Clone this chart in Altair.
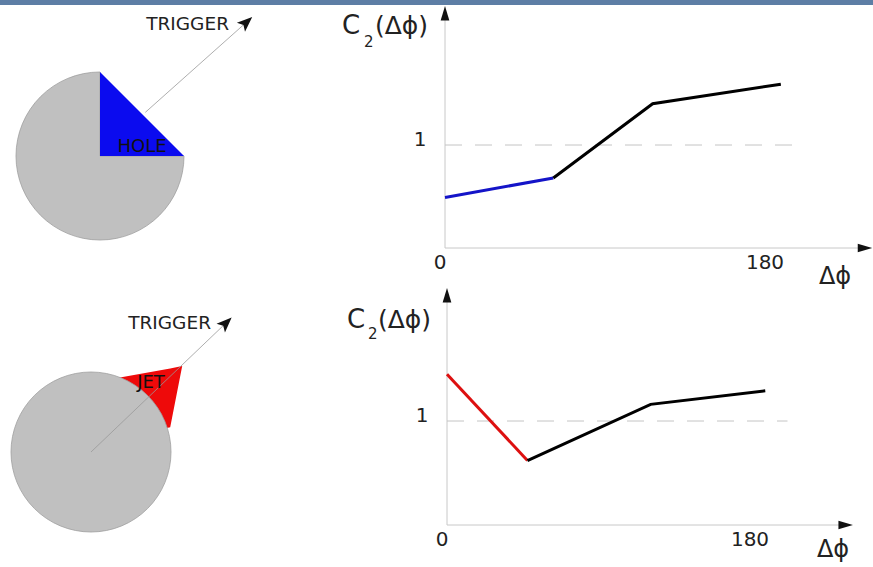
import math
import altair as alt
import pandas as pd

FONT = "DejaVu Sans"

# ---------------- data ----------------
# top plot (HOLE): near-side segment and away-side segment
hole_near_dphi = [0, 60]
hole_near_c2 = [0.49, 0.68]
hole_away_dphi = [60, 115, 186]
hole_away_c2 = [0.68, 1.40, 1.59]

# bottom plot (JET)
jet_near_dphi = [0, 47]
jet_near_c2 = [1.45, 0.62]
jet_away_dphi = [47, 119, 186]
jet_away_c2 = [0.62, 1.16, 1.29]

x_tick_values = [0, 180]
x_tick_labels = ["0", "180"]
y_tick_values = [1]
y_tick_labels = ["1"]

# diagram geometry in units of the disc radius (centre at 0,0)
hole_tri_x = [0.0, 1.0]
hole_tri_top = [1.0, 0.0]
hole_tri_bottom = [0.0, 0.0]

jet_x = [0.24, 0.99, 1.14]
jet_top = [0.91, 1.045, 1.075]
jet_bottom = [0.15, 0.31, 1.075]

hole_trigger_from = (0.54, 0.52)
hole_trigger_to = (1.745, 1.594)
jet_trigger_from = (0.0, 0.0)
jet_trigger_to = (1.69, 1.615)

dummy = pd.DataFrame({"d": [0]})


def txt(text, x, y, size, align="left", color="#222", style="normal"):
    return alt.Chart(dummy).mark_text(
        text=text, font=FONT, fontSize=size, align=align, baseline="middle",
        color=color, fontStyle=style
    ).encode(x=alt.value(x), y=alt.value(y))


ARROW = "M0,-1L0.6,1L-0.6,1Z"
DART = "M0,-1L0.8,1L0,0.55L-0.8,1Z"


def plot_panel(nx, ny, ax, ay, near_color, xr, yr, x_end, y_end, dash_end):
    xs = alt.Scale(domain=[0, 180], range=xr, nice=False, zero=False)
    ys = alt.Scale(domain=[0, 1], range=yr, nice=False, zero=False)
    X = lambda f: alt.X(f, scale=xs, axis=None)
    Y = lambda f: alt.Y(f, scale=ys, axis=None)

    curve = pd.DataFrame({
        "x": nx + ax, "y": ny + ay,
        "seg": ["near"] * len(nx) + ["away"] * len(ax),
    })
    axes_df = pd.DataFrame({"x": [0, 0], "x2": [x_end, 0], "y": [0, 0], "y2": [0, y_end]})
    heads = pd.DataFrame({"x": [x_end, 0], "y": [0, y_end], "a": [90, 0]})
    dash = pd.DataFrame({"x": [0], "x2": [dash_end], "y": [1]})
    xt = pd.DataFrame({"x": x_tick_values, "y": [0, 0], "t": x_tick_labels})
    yt = pd.DataFrame({"x": [0], "y": y_tick_values, "t": y_tick_labels})

    axes = alt.Chart(axes_df).mark_rule(color="#c8c8c8", strokeWidth=1).encode(
        x=X("x:Q"), x2="x2:Q", y=Y("y:Q"), y2="y2:Q")
    arrow = alt.Chart(heads).mark_point(
        shape=ARROW, size=210, filled=True, color="#111", opacity=1, strokeWidth=0
    ).encode(x=X("x:Q"), y=Y("y:Q"), angle=alt.Angle("a:Q", scale=None))
    dashed = alt.Chart(dash).mark_rule(color="#c4c4c4", strokeWidth=1, strokeDash=[17, 13]).encode(
        x=X("x:Q"), x2="x2:Q", y=Y("y:Q"))
    lines = alt.Chart(curve).mark_line(strokeWidth=3).encode(
        x=X("x:Q"), y=Y("y:Q"),
        color=alt.Color("seg:N", scale=alt.Scale(domain=["near", "away"], range=[near_color, "#000000"]), legend=None),
    )
    xlab = alt.Chart(xt).mark_text(font=FONT, fontSize=20, color="#222", dx=-5, dy=15).encode(
        x=X("x:Q"), y=Y("y:Q"), text="t:N")
    ylab = alt.Chart(yt).mark_text(font=FONT, fontSize=20, color="#222", dx=-25, dy=-5).encode(
        x=X("x:Q"), y=Y("y:Q"), text="t:N")
    return alt.layer(axes, dashed, lines, arrow, xlab, ylab)


def pie_panel(kind, cx, cy, r):
    xs = alt.Scale(domain=[-1, 1], range=[cx - r, cx + r], nice=False, zero=False)
    ys = alt.Scale(domain=[-1, 1], range=[cy + r, cy - r], nice=False, zero=False)
    X = lambda f: alt.X(f, scale=xs, axis=None)
    Y = lambda f: alt.Y(f, scale=ys, axis=None)
    centre = pd.DataFrame({"x": [0.0], "y": [0.0]})
    layers = []
    if kind == "hole":
        disc = alt.Chart(centre).mark_arc(
            radius=r, theta=math.pi / 2, theta2=2 * math.pi,
            color="#c0c0c0", stroke="#a0a0a0", strokeWidth=0.8
        ).encode(x=X("x:Q"), y=Y("y:Q"))
        tri = alt.Chart(pd.DataFrame({"x": hole_tri_x, "top": hole_tri_top, "bot": hole_tri_bottom})).mark_area(
            color="#0b0bef").encode(x=X("x:Q"), y=Y("top:Q"), y2="bot:Q")
        layers += [disc, tri]
        f, t, ang = hole_trigger_from, hole_trigger_to, 48
    else:
        jet = alt.Chart(pd.DataFrame({"x": jet_x, "top": jet_top, "bot": jet_bottom})).mark_area(
            color="#ee0a0a").encode(x=X("x:Q"), y=Y("top:Q"), y2="bot:Q")
        disc = alt.Chart(centre).mark_arc(
            radius=r, theta=0, theta2=2 * math.pi,
            color="#c0c0c0", stroke="#a0a0a0", strokeWidth=0.8
        ).encode(x=X("x:Q"), y=Y("y:Q"))
        layers += [jet, disc]
        f, t, ang = jet_trigger_from, jet_trigger_to, 46
    seg = pd.DataFrame({"x": [f[0]], "y": [f[1]], "x2": [t[0]], "y2": [t[1]]})
    line = alt.Chart(seg).mark_rule(color="#999999", strokeWidth=0.8).encode(
        x=X("x:Q"), y=Y("y:Q"), x2="x2:Q", y2="y2:Q")
    head = alt.Chart(pd.DataFrame({"x": [t[0]], "y": [t[1]], "a": [ang]})).mark_point(
        shape=DART, size=230, filled=True, color="#111", opacity=1, strokeWidth=0
    ).encode(x=X("x:Q"), y=Y("y:Q"), angle=alt.Angle("a:Q", scale=None))
    layers += [line, head]
    return alt.layer(*layers)


banner = alt.Chart(dummy).mark_rect(color="#5d7ea5").encode(
    x=alt.value(0), x2=alt.value(873), y=alt.value(0), y2=alt.value(5))

pie_top = pie_panel("hole", 100, 156, 84)
pie_bot = pie_panel("jet", 91, 452, 80)

plot_top = plot_panel(hole_near_dphi, hole_near_c2, hole_away_dphi, hole_away_c2, "#1414c8",
                      [445, 770], [248, 145], 232.6, 2.28, 199)
plot_bot = plot_panel(jet_near_dphi, jet_near_c2, jet_away_dphi, jet_away_c2, "#dd1010",
                      [447, 755], [525, 421], 233, 2.21, 199)

texts = [
    txt("TRIGGER", 229, 24, 18.5, align="right"),
    txt("HOLE", 142, 147, 18, align="center", color="#111"),
    txt("TRIGGER", 211, 323, 18.5, align="right"),
    txt("JET", 151, 383, 18, align="center", color="#111"),
    txt("C", 342, 26, 26),
    txt("2", 364, 42, 15),
    txt("(Δϕ)", 375, 26, 25),
    txt("C", 347, 320, 26),
    txt("2", 368, 334, 15),
    txt("(Δϕ)", 378, 320, 25),
    txt("Δϕ", 835, 277, 24, align="center"),
    txt("Δϕ", 833, 550, 24, align="center"),
]

chart = alt.layer(banner, pie_top, pie_bot, plot_top, plot_bot, *texts).resolve_scale(
    x="independent", y="independent", color="independent"
).properties(
    width=873, height=567, padding=0, autosize="none", background="white"
).configure_view(stroke=None)

chart.save("out.html", embed_options={"renderer": "svg", "actions": False})
